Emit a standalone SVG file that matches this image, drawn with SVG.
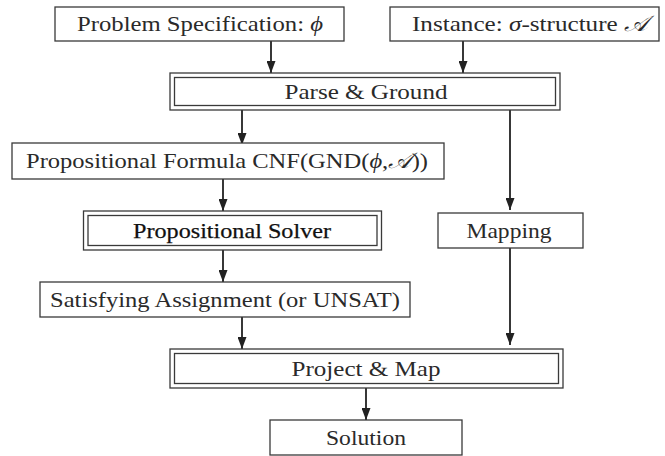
<svg xmlns="http://www.w3.org/2000/svg" width="665" height="456" viewBox="0 0 665 456">
<defs>
<style>
.box{fill:#fff;stroke:#3a3a3a;stroke-width:1.3}
.t{font-family:"Liberation Serif","DejaVu Serif",serif;font-size:22px;fill:#2a2a2a;text-anchor:middle}
.b{fill:#111;stroke:#111;stroke-width:0.25}
.m{font-style:italic}
.c{stroke:#222;stroke-width:1.8;fill:none;marker-end:url(#ah)}
</style>
<marker id="ah" viewBox="0 0 12 9" refX="12" refY="4.5" markerWidth="12" markerHeight="9" markerUnits="userSpaceOnUse" orient="auto">
<path d="M0,0 L12,4.5 L0,9 Z" fill="#222"/>
</marker>
</defs>
<rect width="665" height="456" fill="#fff"/>
<g id="connectors">
<line class="c" x1="271" y1="41" x2="271" y2="73"/>
<line class="c" x1="463" y1="41" x2="463" y2="73"/>
<line class="c" x1="242" y1="110" x2="242" y2="145"/>
<line class="c" x1="510" y1="110" x2="510" y2="210"/>
<line class="c" x1="223" y1="179" x2="223" y2="211"/>
<line class="c" x1="223" y1="250" x2="223" y2="282"/>
<line class="c" x1="242" y1="317" x2="242" y2="349"/>
<line class="c" x1="510" y1="248" x2="510" y2="345"/>
<line class="c" x1="366" y1="388" x2="366" y2="420"/>
</g>
<g id="problem-spec">
<rect class="box" x="55" y="7" width="289" height="34"/>
<text class="t" x="200" y="31" textLength="246" lengthAdjust="spacingAndGlyphs">Problem Specification: <tspan class="m">ϕ</tspan></text>
</g>
<g id="instance">
<rect class="box" x="390" y="7" width="269" height="34"/>
<text class="t" x="530" y="31" textLength="236" lengthAdjust="spacingAndGlyphs">Instance: <tspan class="m">σ</tspan>-structure <tspan class="m">𝒜</tspan></text>
</g>
<g id="parse-ground">
<rect class="box" x="170" y="73" width="390" height="37"/>
<rect class="box" x="174.5" y="77.5" width="381" height="28"/>
<text class="t" x="366" y="99" textLength="163" lengthAdjust="spacingAndGlyphs">Parse &amp; Ground</text>
</g>
<g id="prop-formula">
<rect class="box" x="12" y="143" width="432" height="36"/>
<text class="t" x="227" y="168" textLength="402" lengthAdjust="spacingAndGlyphs">Propositional Formula CNF(GND(<tspan class="m">ϕ</tspan>,<tspan class="m">𝒜</tspan>))</text>
</g>
<g id="prop-solver">
<rect class="box" x="83.5" y="211" width="298" height="39"/>
<rect class="box" x="88" y="215.5" width="289" height="30"/>
<text class="t b" x="232" y="238" textLength="198" lengthAdjust="spacingAndGlyphs">Propositional Solver</text>
</g>
<g id="mapping">
<rect class="box" x="438" y="213" width="145" height="35"/>
<text class="t" x="509" y="237.5" textLength="85" lengthAdjust="spacingAndGlyphs">Mapping</text>
</g>
<g id="sat-assign">
<rect class="box" x="40" y="282" width="370" height="35"/>
<text class="t" x="225" y="306.5" textLength="350" lengthAdjust="spacingAndGlyphs">Satisfying Assignment (or UNSAT)</text>
</g>
<g id="project-map">
<rect class="box" x="170" y="349" width="393" height="39"/>
<rect class="box" x="174.5" y="353.5" width="384" height="30"/>
<text class="t" x="366" y="376" textLength="149" lengthAdjust="spacingAndGlyphs">Project &amp; Map</text>
</g>
<g id="solution">
<rect class="box" x="270" y="420" width="192" height="35"/>
<text class="t" x="366" y="444.5" textLength="80" lengthAdjust="spacingAndGlyphs">Solution</text>
</g>
</svg>
